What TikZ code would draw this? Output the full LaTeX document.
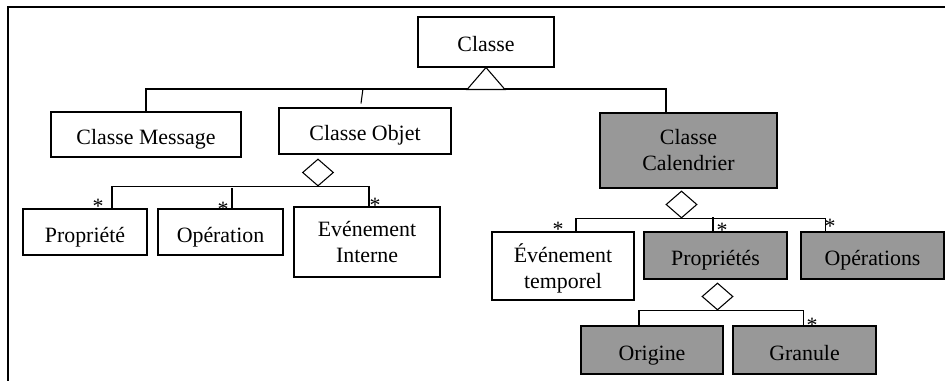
\documentclass[tikz,border=0pt]{standalone}
\usepackage{fontspec}
\setmainfont{Liberation Serif}
\usetikzlibrary{shapes.geometric}
\definecolor{boxgray}{RGB}{152,152,152}

\begin{document}
\begin{tikzpicture}[x=0.75pt,y=-0.75pt,line width=0.8pt,
  font=\fontsize{16.4}{19.5}\selectfont,
  box/.style 2 args={draw,inner sep=0pt,align=center,
    minimum width=#1*0.75pt,minimum height=#2*0.75pt},
  one/.style={text height=16pt,text depth=1pt},
  grey/.style={fill=boxgray},
  agg/.style={draw,fill=white,diamond,inner sep=0pt,minimum width=23.25pt,minimum height=20.25pt},
  mult/.style={inner sep=0pt,anchor=north}]
  \useasboundingbox (0,0) rectangle (945,381);
  \draw (8,381) -- (8,7) -- (945,7);

  % classes
  \node[box={136}{50},one] (cls) at (486,42) {Classe};
  \node[box={190}{45},one] (msg) at (146,134.5) {Classe Message};
  \node[box={172}{46},one] (obj) at (365,131) {Classe Objet};
  \node[box={177}{75},grey] (cal) at (688.5,150.5) {Classe\\Calendrier};
  \node[box={124}{46},one] (prop) at (85,232) {Propriété};
  \node[box={125}{46},one] (oper) at (220.5,232) {Opération};
  \node[box={146}{70}] (evi) at (367,242) {Evénement\\Interne};
  \node[box={142}{68}] (evt) at (563,266) {Événement\\\raisebox{0pt}[\height][0pt]{temporel}};
  \node[box={143}{47},one,grey] (props) at (715.5,255.5) {Propriétés};
  \node[box={143}{47},one,grey] (opers) at (872.5,255.5) {Opérations};
  \node[box={142}{48},one,grey] (orig) at (652,350) {Origine};
  \node[box={143}{48},one,grey] (gran) at (804.5,350) {Granule};

  % heritage
  \coordinate (t1) at (486,89);
  \draw (msg.north) |- (t1) -| ([xshift=-16.9pt]cal.north);
  \draw ([shift={(-2,-19)}]obj.north) -- ++(-2,15);
  \draw[fill=white] (cls.south) -- ++(-19,22) -- ++(38,0) -- cycle;

  % aggregations
  \node[agg] (d1) at (318,172.5) {};
  \draw ([xshift=20.25pt]prop.north) |- (d1.south) -| ([xshift=1.5pt]evi.north);
  \draw ([xshift=8.6pt]oper.north) -- ++(0,-20);
  \node[agg] (d2) at (681.5,204.5) {};
  \draw ([xshift=9.75pt]evt.north) |- (d2.south) -| ([xshift=-35.6pt]opers.north);
  \draw ([xshift=-1.9pt]props.north) -- ++(0,-14);
  \node[agg] (d3) at (717.5,296.5) {};
  \draw ([xshift=-9.75pt]orig.north) |- (d3.south) -| ([xshift=-1.1pt]gran.north);

  % multiplicites
  \node[mult] at (98,199) {*};
  \node[mult] at (223,202) {*};
  \node[mult] at (375,198) {*};
  \node[mult] at (558,222) {*};
  \node[mult] at (722,223) {*};
  \node[mult] at (830,219) {*};
  \node[mult] at (812,318) {*};
\end{tikzpicture}
\end{document}
